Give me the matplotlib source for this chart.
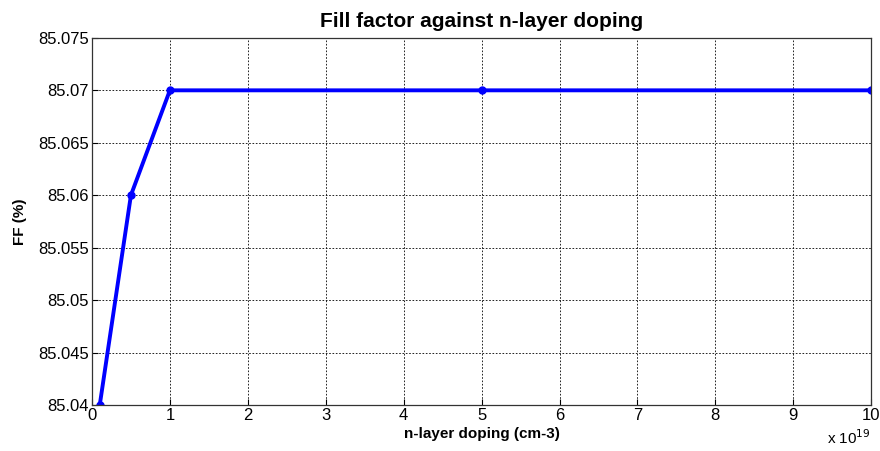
import matplotlib
matplotlib.use("Agg")
import matplotlib.pyplot as plt

# n-layer doping (x 1e19 cm-3) and fill factor (%)
doping = [0.1, 0.5, 1, 5, 10]
ff = [85.04, 85.06, 85.07, 85.07, 85.07]
xticks = list(range(0, 11))
yticks = [85.04, 85.045, 85.05, 85.055, 85.06, 85.065, 85.07, 85.075]
ylabels = ["85.04", "85.045", "85.05", "85.055", "85.06", "85.065", "85.07", "85.075"]

plt.rcParams["font.family"] = ["Liberation Sans", "DejaVu Sans"]

fig = plt.figure(figsize=(8.8, 4.51), dpi=100)
ax = fig.add_axes([0.1045, 0.102, 0.8855, 0.814])

ax.plot(doping, ff, color="#0000ff", linewidth=2.8, marker="o", markersize=5)

ax.set_xlim(0, 10)
ax.set_ylim(85.04, 85.075)
ax.set_xticks(xticks)
ax.set_yticks(yticks)
ax.set_yticklabels(ylabels)
ax.tick_params(labelsize=12, direction="in", length=4, width=0.8, pad=2)
ax.grid(True, color="black", linestyle=(0, (2, 2)), linewidth=0.6)
for s in ax.spines.values():
    s.set_linewidth(0.9)
    s.set_color("#333333")

ax.set_title("Fill factor against n-layer doping", fontsize=15, fontweight="bold", pad=8)
ax.set_xlabel("n-layer doping (cm-3)", fontsize=11, fontweight="bold", labelpad=3)
ax.set_ylabel("FF (%)", fontsize=11, fontweight="bold", labelpad=8)

fig.text(0.94, 0.015, r"x 10$^{19}$", fontsize=11)

fig.savefig("out.png", dpi=100)
